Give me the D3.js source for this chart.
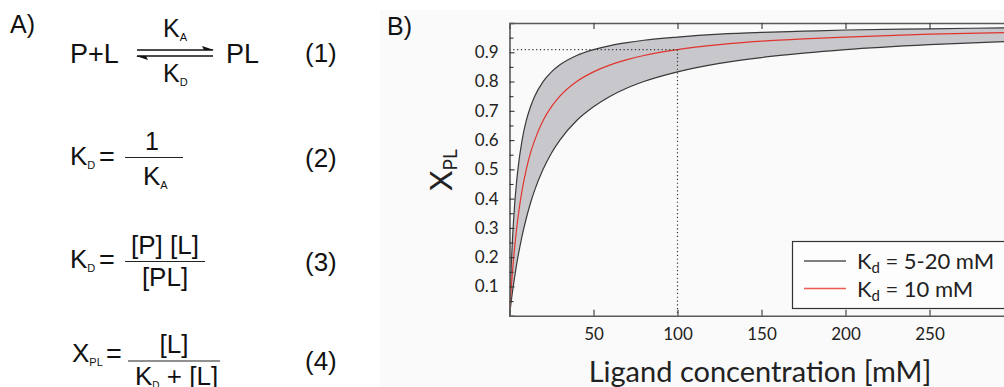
<!DOCTYPE html>
<html>
<head>
<meta charset="utf-8">
<script src="https://cdnjs.cloudflare.com/ajax/libs/d3/7.8.5/d3.min.js"></script>
<style>
  body { margin: 0; background: #fff; }
  svg { display: block; }
  .eq { font-family: "Liberation Sans", Arial, sans-serif; fill: #111; }
  .cm { font-family: Lato, "DejaVu Sans", sans-serif; fill: #222; }
</style>
</head>
<body>
<div id="chart"></div>
<script>
// ligand concentration [mM] and read-off fraction bound X_PL
const ligand  = [0, 0.5, 1, 2, 3, 4, 5, 7.5, 10, 12.5, 15, 20, 25, 30, 40, 50, 60, 70, 80, 100, 125, 150, 175, 200, 250, 300];
const xplKd5  = [0, 0.091, 0.167, 0.286, 0.375, 0.444, 0.5, 0.6, 0.667, 0.714, 0.75, 0.8, 0.833, 0.857, 0.889, 0.909, 0.923, 0.933, 0.941, 0.952, 0.962, 0.968, 0.972, 0.976, 0.98, 0.984];
const xplKd10 = [0, 0.048, 0.091, 0.167, 0.231, 0.286, 0.333, 0.429, 0.5, 0.556, 0.6, 0.667, 0.714, 0.75, 0.8, 0.833, 0.857, 0.875, 0.889, 0.909, 0.926, 0.938, 0.946, 0.952, 0.962, 0.968];
const xplKd20 = [0, 0.024, 0.048, 0.091, 0.13, 0.167, 0.2, 0.273, 0.333, 0.385, 0.429, 0.5, 0.556, 0.6, 0.667, 0.714, 0.75, 0.778, 0.8, 0.833, 0.862, 0.882, 0.897, 0.909, 0.926, 0.938];

const guideL = [100];
const guideX = [0.909];

const xTicks = [50, 100, 150, 200, 250];
const yTicks = [0.1, 0.2, 0.3, 0.4, 0.5, 0.6, 0.7, 0.8, 0.9];
const yMinor = [0.05, 0.15, 0.25, 0.35, 0.45, 0.55, 0.65, 0.75, 0.85, 0.95];

const legendLabels = [["5-20 mM", "#555"], ["10 mM", "#ef5a55"]];

const width = 1004, height = 387;

const svg = d3.select("#chart").append("svg")
  .attr("width", width)
  .attr("height", height);

drawEquations(svg);
drawChart(svg);

function drawEquations(svg) {
  const g = svg.append("g").attr("class", "eq");
  const fs = 26;

  g.append("text").attr("x", 10).attr("y", 33).style("font-size", "25px").text("A)");

  // (1) P + L <=> PL
  g.append("text").attr("x", 70).attr("y", 63).style("font-size", "27px").text("P+L");
  sub(g, 163, 37, "K", "A", 25);
  sub(g, 163, 82, "K", "D", 25);
  g.append("line").attr("x1", 137).attr("x2", 213).attr("y1", 50).attr("y2", 50)
    .attr("stroke", "#111").attr("stroke-width", 1.4);
  g.append("path").attr("d", "M214,50 L202,46 L204,50 Z").attr("fill", "#111");
  g.append("line").attr("x1", 137).attr("x2", 213).attr("y1", 56).attr("y2", 56)
    .attr("stroke", "#111").attr("stroke-width", 1.4);
  g.append("path").attr("d", "M136,56 L148,60 L146,56 Z").attr("fill", "#111");
  g.append("text").attr("x", 226).attr("y", 63).style("font-size", "27px").text("PL");
  g.append("text").attr("x", 305).attr("y", 62).style("font-size", "26px").text("(1)");

  // (2)
  sub(g, 70, 165, "K", "D", fs);
  g.append("text").attr("x", 99).attr("y", 166).style("font-size", "27px").text("=");
  frac(g, 125, 183, 157.5);
  g.append("text").attr("x", 152).attr("y", 150).attr("text-anchor", "middle").style("font-size", "25px").text("1");
  sub(g, 143, 185, "K", "A", fs);
  g.append("text").attr("x", 305).attr("y", 167).style("font-size", "26px").text("(2)");

  // (3)
  sub(g, 70, 268, "K", "D", fs);
  g.append("text").attr("x", 99).attr("y", 269).style("font-size", "27px").text("=");
  frac(g, 125, 205, 261.5);
  g.append("text").attr("x", 165).attr("y", 254).attr("text-anchor", "middle").style("font-size", fs + "px").text("[P] [L]");
  g.append("text").attr("x", 165).attr("y", 286).attr("text-anchor", "middle").style("font-size", fs + "px").text("[PL]");
  g.append("text").attr("x", 305).attr("y", 271).style("font-size", "26px").text("(3)");

  // (4)
  sub(g, 72, 362, "X", "PL", fs);
  g.append("text").attr("x", 106).attr("y", 363).style("font-size", "27px").text("=");
  frac(g, 128, 220, 361);
  g.append("text").attr("x", 174).attr("y", 353).attr("text-anchor", "middle").style("font-size", fs + "px").text("[L]");
  const den = g.append("text").attr("x", 135).attr("y", 385).style("font-size", fs + "px");
  den.append("tspan").text("K");
  den.append("tspan").attr("dy", 4).style("font-size", "10px").text("D");
  den.append("tspan").attr("dy", -4).text(" + [L]");
  g.append("text").attr("x", 305).attr("y", 370).style("font-size", "26px").text("(4)");

  function sub(g, x, y, main, s, size) {
    const t = g.append("text").attr("x", x).attr("y", y).style("font-size", size + "px");
    t.append("tspan").text(main);
    t.append("tspan").attr("dy", 4).style("font-size", "11px").text(s);
  }
  function frac(g, x1, x2, y) {
    g.append("line").attr("x1", x1).attr("x2", x2).attr("y1", y).attr("y2", y)
      .attr("stroke", "#222").attr("stroke-width", 1.2);
  }
}

function drawChart(svg) {
  svg.append("rect").attr("x", 380).attr("y", 10).attr("width", width - 380).attr("height", height - 10)
    .attr("fill", "#fafafa");

  svg.append("text").attr("class", "eq").attr("x", 387).attr("y", 35).style("font-size", "25px").text("B)");

  const x = d3.scaleLinear().domain([0, 300]).range([509.5, 1013.5]);
  const y = d3.scaleLinear().domain([0, 1]).range([315.7, 23]);

  svg.append("clipPath").attr("id", "plotclip").append("rect")
    .attr("x", x(0)).attr("y", y(1)).attr("width", x(300) - x(0)).attr("height", y(0) - y(1));

  const plot = svg.append("g").attr("clip-path", "url(#plotclip)");

  const band = d3.area()
    .x((d, i) => x(ligand[i]))
    .y0((d, i) => y(xplKd20[i]))
    .y1((d, i) => y(xplKd5[i]))
    .curve(d3.curveMonotoneX);
  plot.append("path").datum(ligand).attr("d", band).attr("fill", "#c7c7cc");

  const line = d3.line().x(d => x(d[0])).y(d => y(d[1])).curve(d3.curveMonotoneX);
  [xplKd5, xplKd20].forEach(vals => {
    plot.append("path").datum(ligand.map((l, i) => [l, vals[i]])).attr("d", line)
      .attr("fill", "none").attr("stroke", "#3a3a3a").attr("stroke-width", 1.2);
  });
  plot.append("path").datum(ligand.map((l, i) => [l, xplKd10[i]])).attr("d", line)
    .attr("fill", "none").attr("stroke", "#e2342e").attr("stroke-width", 1.2);

  // dotted guides
  plot.append("line").attr("x1", x(0)).attr("x2", x(guideL[0])).attr("y1", y(guideX[0])).attr("y2", y(guideX[0]))
    .attr("stroke", "#333").attr("stroke-width", 1.2).attr("stroke-dasharray", "1.2,2.6");
  plot.append("line").attr("x1", x(guideL[0])).attr("x2", x(guideL[0])).attr("y1", y(guideX[0])).attr("y2", y(0))
    .attr("stroke", "#333").attr("stroke-width", 1.2).attr("stroke-dasharray", "1.2,2.6");

  // axes (ticks inward)
  const xAxis = d3.axisBottom(x).tickValues(xTicks).tickSize(-6).tickPadding(12).tickFormat(d3.format("d"));
  const gx = svg.append("g").attr("transform", `translate(0, ${y(0)})`).call(xAxis);
  const xTop = d3.axisTop(x).tickValues(xTicks).tickSize(-6).tickFormat("");
  const gxt = svg.append("g").attr("transform", `translate(0, ${y(1)})`).call(xTop);
  const yAxis = d3.axisLeft(y).tickValues(yTicks).tickSize(-5).tickPadding(11).tickFormat(d3.format(".1f"));
  const gy = svg.append("g").attr("transform", `translate(${x(0)}, 0)`).call(yAxis);
  const yAxisMinor = d3.axisLeft(y).tickValues(yMinor).tickSize(-4).tickFormat("");
  const gym = svg.append("g").attr("transform", `translate(${x(0)}, 0)`).call(yAxisMinor);

  [gx, gxt, gy, gym].forEach(g => {
    g.select(".domain").attr("stroke", "#5a5a5a").attr("stroke-width", 1.6);
    g.selectAll(".tick line").attr("stroke", "#333").attr("stroke-width", 1.1);
    g.selectAll(".tick text").attr("class", "cm").style("font-size", "17px").attr("fill", "#222");
  });
  gym.select(".domain").remove();

  // axis titles
  svg.append("text").attr("class", "cm").attr("x", 760).attr("y", 382)
    .attr("text-anchor", "middle").style("font-size", "29px").text("Ligand concentration [mM]");

  const yl = svg.append("text").attr("class", "cm")
    .attr("transform", "translate(452, 170) rotate(-90)")
    .attr("text-anchor", "middle").style("font-size", "31px");
  yl.append("tspan").text("X");
  yl.append("tspan").attr("dy", 5).style("font-size", "19px").text("PL");

  // legend
  const lg = svg.append("g");
  lg.append("rect").attr("x", 792.5).attr("y", 241.5).attr("width", 260).attr("height", 67)
    .attr("fill", "#fdfdfd").attr("stroke", "#333").attr("stroke-width", 1.2);
  legendLabels.forEach((d, i) => {
    const yy = 261 + i * 27.5;
    lg.append("line").attr("x1", 804).attr("x2", 846).attr("y1", yy).attr("y2", yy)
      .attr("stroke", d[1]).attr("stroke-width", 1.3);
    const t = lg.append("text").attr("class", "cm").attr("x", 857).attr("y", yy + 8)
      .style("font-size", "22px");
    t.append("tspan").text("K");
    t.append("tspan").attr("dy", 4).style("font-size", "15px").text("d");
    t.append("tspan").attr("dy", -4).text("\u2005=\u2005" + d[0]);
  });
}
</script>
</body>
</html>
